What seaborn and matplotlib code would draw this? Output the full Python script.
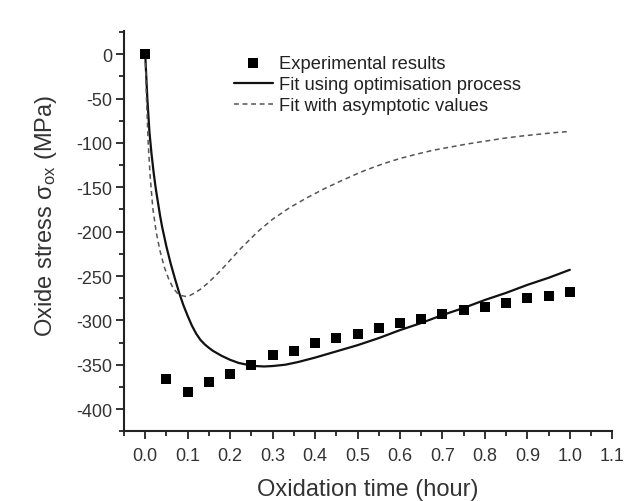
import pandas as pd
import matplotlib
matplotlib.use('Agg')
import matplotlib.pyplot as plt
import seaborn as sns
from matplotlib.ticker import MultipleLocator, FormatStrFormatter

# experimental points
exp_time = [0.0, 0.05, 0.10, 0.15, 0.20, 0.25, 0.30, 0.35, 0.40, 0.45, 0.50,
            0.55, 0.60, 0.65, 0.70, 0.75, 0.80, 0.85, 0.90, 0.95, 1.00]
exp_stress = [0, -366, -381, -370, -360, -350, -339, -334, -326, -320, -315,
              -309, -303, -298, -293, -288, -285, -280, -275, -272, -268]

# fit using optimisation process
opt_time = [0.0, 0.005, 0.01, 0.015, 0.02, 0.025, 0.03, 0.035, 0.04, 0.05,
            0.06, 0.07, 0.08, 0.09, 0.10, 0.11, 0.12, 0.13, 0.14, 0.15, 0.16,
            0.18, 0.20, 0.22, 0.24, 0.26, 0.28, 0.30, 0.33, 0.36, 0.40, 0.45,
            0.50, 0.55, 0.60, 0.65, 0.70, 0.75, 0.80, 0.85, 0.90, 0.95, 1.00]
opt_stress = [0, -50, -88, -113, -134, -152, -167, -182, -195, -217,
              -236, -253, -269, -283, -295, -306, -315, -322, -327, -331, -334.5,
              -340, -344.5, -348, -350, -351.5, -352, -351.5, -350, -347, -342, -335,
              -328, -320, -311, -303, -294, -286, -277, -269, -260, -252, -243]

# fit with asymptotic values
asy_time = [0.0, 0.003, 0.007, 0.012, 0.018, 0.026, 0.035, 0.045, 0.055, 0.065,
            0.075, 0.085, 0.095, 0.105, 0.115, 0.13, 0.145, 0.165, 0.185, 0.205,
            0.225, 0.245, 0.265, 0.285, 0.30, 0.34, 0.38, 0.42, 0.46, 0.50,
            0.52, 0.56, 0.60, 0.64, 0.68, 0.72, 0.76, 0.80, 0.84, 0.88, 0.92,
            0.96, 1.00]
asy_stress = [0, -50, -100, -140, -174, -201, -222, -240, -253, -263,
              -269, -272, -273, -272, -269.5, -265, -259, -250, -240, -229.5,
              -219, -209.5, -200, -192, -186, -173, -162, -152, -143, -134.5,
              -130.5, -123.5, -117.5, -112.5, -108, -104.5, -101, -98, -95, -92.5, -90.5,
              -88.5, -87]

exp_df = pd.DataFrame({'t': exp_time, 's': exp_stress})
opt_df = pd.DataFrame({'t': opt_time, 's': opt_stress})
asy_df = pd.DataFrame({'t': asy_time, 's': asy_stress})

sns.set_theme(style='ticks')
plt.rcParams['font.family'] = ['Liberation Sans', 'DejaVu Sans']
plt.rcParams['mathtext.fontset'] = 'custom'
plt.rcParams['mathtext.rm'] = 'Liberation Sans'
plt.rcParams['mathtext.it'] = 'Liberation Sans:italic'
plt.rcParams['axes.unicode_minus'] = False

fig = plt.figure(figsize=(6.24, 5.02), dpi=100)
ax = fig.add_axes([0.1987, 0.1390, 0.7825, 0.7968])

sns.scatterplot(data=exp_df, x='t', y='s', marker='s', s=55, color='black',
                edgecolor='black', linewidth=0, ax=ax, label='Experimental results', zorder=3)
sns.lineplot(data=opt_df, x='t', y='s', color='#111111', linewidth=1.6, ax=ax,
             label='Fit using optimisation process', estimator=None, sort=False)
sns.lineplot(data=asy_df, x='t', y='s', color='#555555', linewidth=1.1, ax=ax,
             label='Fit with asymptotic values', estimator=None, sort=False,
             dashes=False)
ax.lines[-1].set_dashes([3.2, 2.4])

ax.set_xlim(-0.05, 1.1)
ax.set_ylim(-425, 26)
ax.set_xticks([x / 10 for x in range(0, 12)])
ax.xaxis.set_minor_locator(MultipleLocator(0.05))
ax.yaxis.set_major_locator(MultipleLocator(50))
ax.yaxis.set_minor_locator(MultipleLocator(25))
ax.xaxis.set_major_formatter(FormatStrFormatter('%.1f'))

for side in ['top', 'right']:
    ax.spines[side].set_visible(False)
for side in ['left', 'bottom']:
    ax.spines[side].set_linewidth(1.5)
    ax.spines[side].set_color('#222222')

ax.tick_params(which='major', length=5.5, width=1.3, direction='out',
               labelsize=13, colors='#222222', labelcolor='#333333')
ax.tick_params(which='minor', length=3.5, width=1.3, direction='out', colors='#222222')
ax.tick_params(axis='x', which='major', pad=6)
ax.tick_params(axis='y', which='major', pad=3)

ax.set_xlabel('Oxidation time (hour)', fontsize=17, color='#333333', labelpad=10)
ax.set_ylabel('Oxide stress σ$_{\\rm ox}$ (MPa)', fontsize=17, color='#333333',
              labelpad=12, y=0.54)

leg = ax.legend(loc='upper left', bbox_to_anchor=(0.375, 0.888),
                bbox_transform=fig.transFigure, frameon=False, fontsize=13.2,
                handlelength=2.1, handletextpad=0.35, labelspacing=0.22,
                borderpad=0, borderaxespad=0)
for t in leg.get_texts():
    t.set_color('#222222')

fig.savefig('out.png', dpi=100, facecolor='white')
